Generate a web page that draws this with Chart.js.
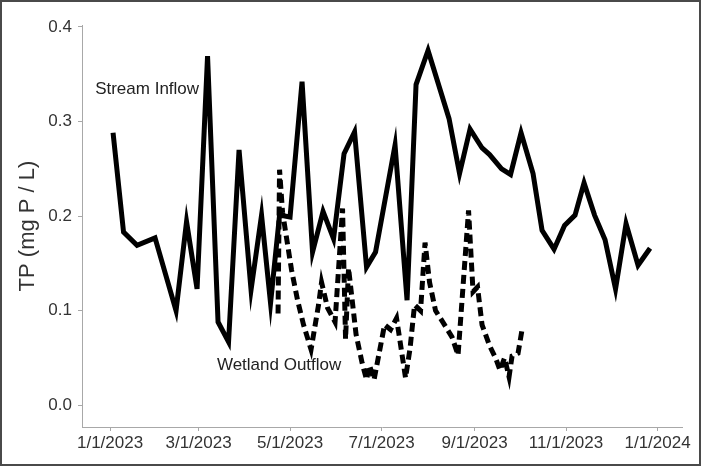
<!DOCTYPE html>
<html lang="en">
<head>
<meta charset="UTF-8">
<title>TP inflow vs outflow</title>
<script src="https://cdn.jsdelivr.net/npm/chart.js"></script>
<style>
    body { margin: 0; background: #fff; }
    canvas { display: block; }
</style>
</head>
<body>
<canvas id="tpChart" width="701" height="466"></canvas>
<script>
    // days since 1/1/2023 and TP (mg P / L)
    const inflowDays = [2, 9, 18, 30, 44, 51, 58, 65, 72, 79, 86, 94, 101, 107, 113, 120,
        128, 135, 142, 149, 156, 163, 171, 177, 190, 198, 204, 212, 226, 233, 240, 248,
        253, 261, 267, 274, 282, 288, 296, 303, 310, 316, 323, 330, 337, 344, 352, 360];
    const inflowTP = [0.288, 0.183, 0.169, 0.177, 0.100, 0.194, 0.123, 0.369, 0.088, 0.067,
        0.270, 0.122, 0.201, 0.108, 0.201, 0.199, 0.342, 0.162, 0.205, 0.176, 0.266, 0.289,
        0.146, 0.162, 0.275, 0.111, 0.339, 0.375, 0.303, 0.245, 0.292, 0.272, 0.265, 0.250,
        0.244, 0.288, 0.245, 0.185, 0.165, 0.190, 0.201, 0.235, 0.201, 0.175, 0.123, 0.192,
        0.148, 0.166];

    const outflowDays = [112, 113, 115, 121, 125, 129, 134, 139, 141, 145, 150, 155, 157,
        159, 164, 168, 171, 173, 176, 180, 183, 187, 191, 197, 200, 203, 207, 210, 213, 217,
        223, 228, 232, 239, 242, 245, 248, 253, 257, 260, 263, 266, 268, 272, 275];
    const outflowTP = [0.097, 0.249, 0.204, 0.143, 0.111, 0.085, 0.059, 0.106, 0.130, 0.103,
        0.088, 0.208, 0.070, 0.145, 0.075, 0.045, 0.027, 0.042, 0.027, 0.060, 0.085, 0.080,
        0.092, 0.029, 0.060, 0.106, 0.100, 0.172, 0.130, 0.100, 0.085, 0.072, 0.053, 0.206,
        0.120, 0.125, 0.085, 0.063, 0.050, 0.037, 0.050, 0.030, 0.052, 0.055, 0.083];

    const xTickDays = [0, 59, 120, 181, 243, 304, 365];
    const xTickLabels = ['1/1/2023', '3/1/2023', '5/1/2023', '7/1/2023', '9/1/2023', '11/1/2023', '1/1/2024'];
    const yTicks = [0, 0.1, 0.2, 0.3, 0.4];

    const toPoints = (xs, ys) => xs.map((x, i) => ({ x: x, y: ys[i] }));

    const axisGray = '#a8a8a8';
    const textColor = '#333333';
    const fontFamily = "'Liberation Sans', Arial, sans-serif";

    // text labels + outer frame
    const decorations = {
        id: 'decorations',
        afterDraw(chart) {
            const ctx = chart.ctx;
            const xs = chart.scales.x, ys = chart.scales.y;
            ctx.save();
            ctx.fillStyle = '#222';
            ctx.font = '17px ' + fontFamily;
            ctx.textAlign = 'center';
            ctx.textBaseline = 'middle';
            ctx.fillText('Stream Inflow', xs.getPixelForValue(24.7), ys.getPixelForValue(0.334));
            ctx.fillText('Wetland Outflow', xs.getPixelForValue(112.7), ys.getPixelForValue(0.042));
            ctx.strokeStyle = '#4a4a4a';
            ctx.lineWidth = 2;
            ctx.strokeRect(1, 1, chart.width - 2, chart.height - 2);
            ctx.restore();
        }
    };

    new Chart(document.getElementById('tpChart'), {
        type: 'line',
        data: {
            datasets: [
                {
                    label: 'Stream Inflow',
                    data: toPoints(inflowDays, inflowTP),
                    borderColor: '#000',
                    borderWidth: 5,
                    pointRadius: 0,
                    tension: 0
                },
                {
                    label: 'Wetland Outflow',
                    data: toPoints(outflowDays, outflowTP),
                    borderColor: '#000',
                    borderWidth: 5,
                    borderDash: [9, 5],
                    pointRadius: 0,
                    tension: 0
                }
            ]
        },
        options: {
            responsive: false,
            animation: false,
            devicePixelRatio: 1,
            layout: { padding: { left: 0, top: 25, right: 19, bottom: 0 } },
            plugins: {
                legend: { display: false },
                tooltip: { enabled: false }
            },
            scales: {
                x: {
                    type: 'linear',
                    min: -18.7,
                    max: 381.3,
                    afterBuildTicks: s => { s.ticks = xTickDays.map(v => ({ value: v })); },
                    afterFit: s => { s.height = 39; },
                    border: { color: axisGray, width: 1 },
                    grid: { drawOnChartArea: false, tickLength: 4, color: axisGray },
                    ticks: {
                        autoSkip: false,
                        maxRotation: 0,
                        padding: 2,
                        color: textColor,
                        font: { family: fontFamily, size: 17 },
                        callback: v => xTickLabels[xTickDays.indexOf(v)]
                    }
                },
                y: {
                    min: -0.023,
                    max: 0.402,
                    afterBuildTicks: s => { s.ticks = yTicks.map(v => ({ value: v })); },
                    afterFit: s => { s.width = 82; },
                    border: { color: axisGray, width: 1 },
                    grid: { drawOnChartArea: false, tickLength: 4, color: axisGray },
                    ticks: {
                        padding: 6,
                        color: textColor,
                        font: { family: fontFamily, size: 17 },
                        callback: v => v.toFixed(1)
                    },
                    title: {
                        display: true,
                        text: 'TP (mg P / L)',
                        color: textColor,
                        font: { family: fontFamily, size: 22 },
                        padding: { top: 15, bottom: 0 }
                    }
                }
            }
        },
        plugins: [decorations]
    });
</script>
</body>
</html>
